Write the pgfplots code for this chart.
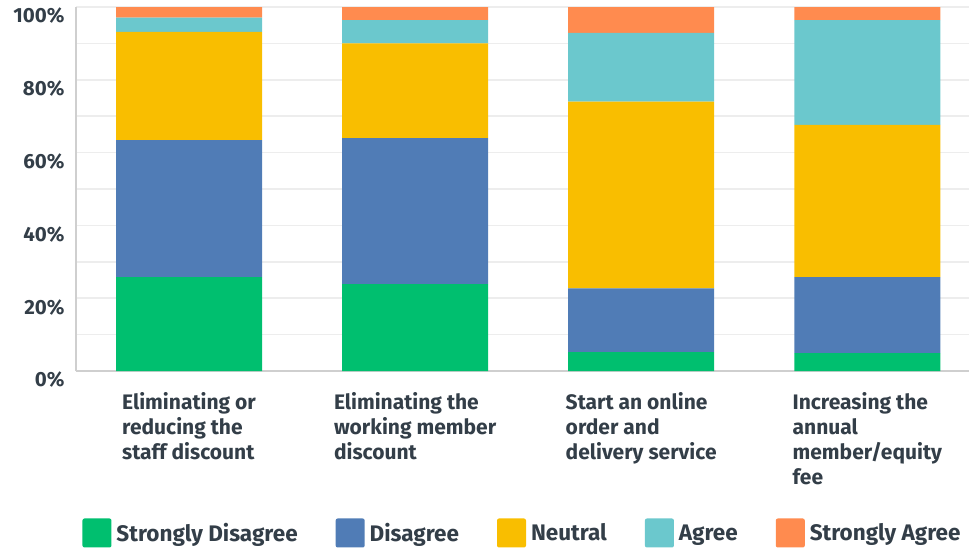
\documentclass[border=0pt]{standalone}
\usepackage{fontspec}
\setmainfont{Fira Sans}
\usepackage{pgfplots}
\pgfplotsset{compat=1.18}

\definecolor{sdis}{HTML}{00BF6F}
\definecolor{dis}{HTML}{507CB6}
\definecolor{neu}{HTML}{F9BE00}
\definecolor{agr}{HTML}{6BC8CD}
\definecolor{sagr}{HTML}{FF8B4F}
\definecolor{txt}{HTML}{333E48}
\definecolor{gridc}{HTML}{EDEDED}
\definecolor{axc}{HTML}{CFCFCF}

\begin{document}
\begin{tikzpicture}[x=1pt,y=1pt]
\useasboundingbox (-76,-179) rectangle (893,371);
\begin{axis}[
    at={(0,0)}, anchor=south west,
    scale only axis, width=893pt, height=364pt,
    ybar stacked, bar width=146pt,
    xmin=-0.5, xmax=3.45, ymin=0, ymax=100,
    xtick={0,1,2,3},
    xticklabels={{Eliminating or\\reducing the\\staff discount},
                 {Eliminating the\\working member\\discount},
                 {Start an online\\order and\\delivery service},
                 {Increasing the\\annual\\member/equity\\fee}},
    ytick={0,20,...,100}, minor ytick={10,30,...,90},
    yticklabel={\pgfmathprintnumber{\tick}\%},
    /pgf/number format/assume math mode=true,
    ymajorgrids, yminorgrids,
    major grid style={gridc, line width=1.5pt},
    minor grid style={gridc, line width=1.5pt},
    separate axis lines,
    axis x line*=bottom, axis y line*=left,
    axis line style={-, axc, line width=1.5pt},
    major tick length=0pt, minor tick length=0pt,
    tick label style={font=\bfseries\fontsize{21}{25}\selectfont, text=txt},
    xticklabel style={align=left, anchor=north, yshift=-18pt},
    yticklabel style={font=\bfseries\fontsize{20.5}{25}\selectfont, xshift=-8pt, yshift=-9pt},
    legend columns=-1,
    legend style={at={(0.5,-0.445)}, anchor=center, draw=none, fill=none,
        font=\bfseries\fontsize{22.5}{25}\selectfont, text=txt,
        /tikz/every odd column/.append style={column sep=3pt},
        /tikz/every even column/.append style={column sep=36pt}},
    legend image code/.code={\fill[#1, rounded corners=2pt] (0pt,-14.5pt) rectangle (29pt,14.5pt);},
]
\addplot[fill=sdis, draw=none] coordinates {(0,25.8) (1,23.9) (2,5.2) (3,4.9)};
\addlegendentry{Strongly Disagree}
\addplot[fill=dis, draw=none] coordinates {(0,37.6) (1,40.1) (2,17.5) (3,20.9)};
\addlegendentry{Disagree}
\addplot[fill=neu, draw=none] coordinates {(0,29.8) (1,26.0) (2,51.3) (3,41.8)};
\addlegendentry{Neutral}
\addplot[fill=agr, draw=none] coordinates {(0,3.9) (1,6.4) (2,18.9) (3,28.8)};
\addlegendentry{Agree}
\addplot[fill=sagr, draw=none] coordinates {(0,2.9) (1,3.6) (2,7.1) (3,3.6)};
\addlegendentry{Strongly Agree}
\end{axis}
\end{tikzpicture}
\end{document}
